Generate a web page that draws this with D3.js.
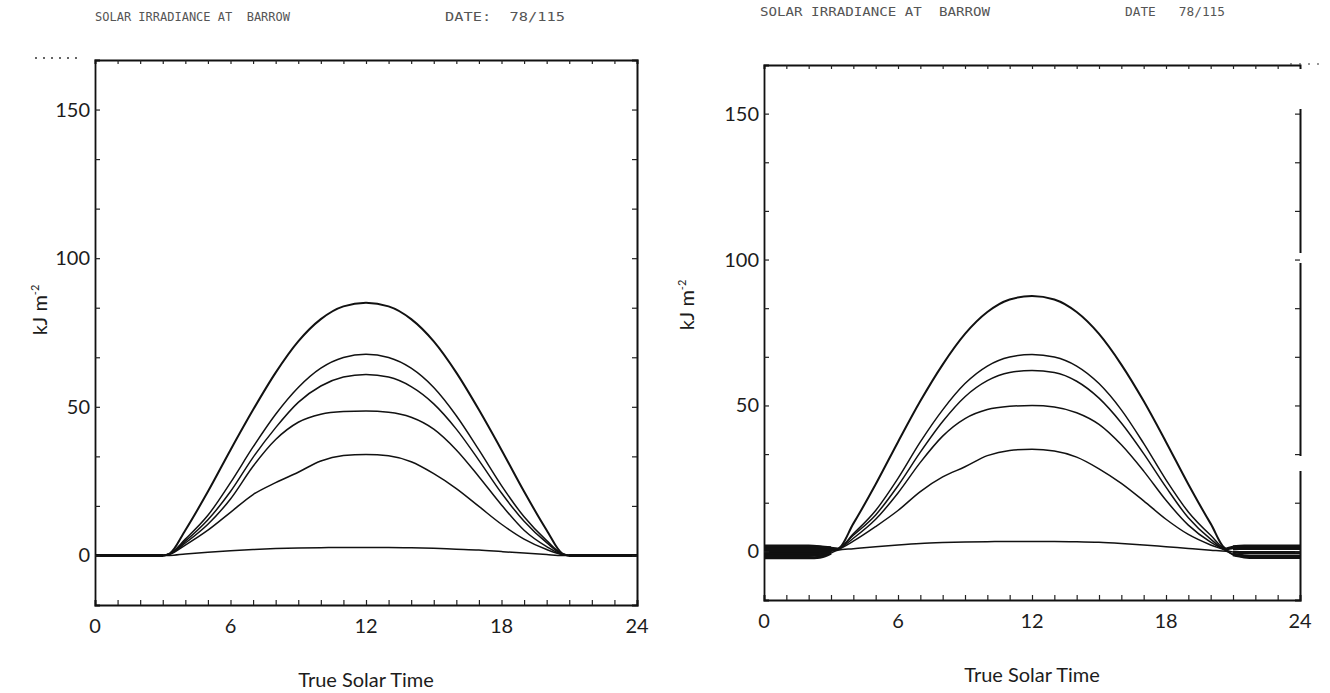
<!DOCTYPE html>
<html>
<head>
<meta charset="utf-8">
<script src="https://cdn.jsdelivr.net/npm/d3@7"></script>
<style>
  html, body { margin: 0; padding: 0; background: #fff; }
  svg { display: block; }
  .hdr { font-family: "DejaVu Sans Mono", monospace; font-size: 12px; fill: #555; white-space: pre; }
  .lbl { font-family: Lato, "Liberation Sans", sans-serif; font-weight: 400; font-size: 20px; fill: #1c1c1c; }
</style>
</head>
<body>
<svg id="chart" width="1330" height="693"></svg>
<script>
// True solar time (hours) at which each curve is sampled
const hours = [0, 1, 2, 2.5, 3, 3.3, 4, 5, 6, 7, 8, 9, 10, 11, 12, 13, 14, 15, 16, 17, 18, 19, 20, 20.7, 21, 21.5, 22, 23, 24];

// Irradiance (kJ m-2), first panel
const leftTop = [0, 0, 0, 0, 0, 0.6, 8.5, 21.5, 35.5, 49, 61.5, 72, 79.5, 83.8, 85, 83.8, 79.5, 72, 61.5, 49, 35.5, 21.5, 8.5, 0.6, 0, 0, 0, 0, 0];
const leftC2  = [0, 0, 0, 0, 0, 0.5, 5.5, 13.5, 24.5, 36.5, 47.5, 56.5, 63, 66.6, 67.7, 66.6, 63, 56.5, 47, 35.5, 23.5, 13, 5, 0.5, 0, 0, 0, 0, 0];
const leftC3  = [0, 0, 0, 0, 0, 0.5, 4.8, 12, 21.5, 33, 43, 51.5, 57, 60, 60.9, 60, 56.8, 51, 42.5, 32, 21, 11.5, 4.3, 0.4, 0, 0, 0, 0, 0];
const leftC4  = [0, 0, 0, 0, 0, 0.4, 4.2, 10.5, 19, 30, 39, 44.8, 47.5, 48.4, 48.6, 48.2, 46.5, 42.5, 35.5, 26.5, 17, 8.5, 3, 0.3, 0, 0, 0, 0, 0];
const leftC5  = [0, 0, 0, 0, 0, 0.4, 3.5, 8.5, 14.5, 20.5, 24.5, 28, 31.8, 33.6, 34, 33.5, 31.5, 27.5, 22.5, 16.5, 10.5, 5.5, 2, 0.3, 0, 0, 0, 0, 0];
const leftLow = [0, 0, 0, 0, 0, 0, 0.5, 1.1, 1.6, 2.0, 2.3, 2.5, 2.6, 2.7, 2.7, 2.7, 2.6, 2.4, 2.1, 1.8, 1.3, 0.8, 0.3, 0, 0, 0, 0, 0, 0];

// Irradiance (kJ m-2), second panel
const rightTop = [1.8, 1.8, 1.8, 1.6, 1.2, 1.0, 9.5, 23, 37.5, 51.5, 64, 74.5, 82, 86.3, 87.5, 86.3, 82, 74.5, 64, 51.5, 37.5, 23, 9.5, 1.0, 1.6, 1.8, 1.8, 1.8, 1.8];
const rightC2  = [1.0, 1.0, 1.0, 1.0, 0.9, 0.9, 6, 14, 25, 37.5, 48.5, 57.5, 63.5, 66.6, 67.5, 66.6, 63.5, 57.5, 48.5, 37, 24.5, 13.5, 5.5, 0.8, 1.3, 1.4, 1.4, 1.4, 1.4];
const rightC3  = [0.2, 0.2, 0.2, 0.3, 0.6, 0.8, 5.5, 12.5, 22.5, 34, 44.5, 53, 58.5, 61.3, 62, 61.3, 58.3, 52.5, 44, 33.5, 22, 11.5, 4.2, 0.6, 1.0, 1.0, 1.0, 1.0, 1.0];
const rightC4  = [-0.6, -0.6, -0.6, -0.4, 0.3, 0.7, 4.5, 11, 20, 30.5, 39.5, 45.5, 48.6, 49.7, 50, 49.5, 47.5, 43.5, 36.5, 27.5, 17.5, 9, 3.2, 0.4, -0.2, -0.4, -0.4, -0.4, -0.4];
const rightC5  = [-1.4, -1.4, -1.4, -1.2, 0, 0.6, 3.5, 8.5, 14, 20.5, 25.5, 29, 32.8, 34.6, 35, 34.4, 32.3, 28.3, 23.3, 17.3, 11, 5.8, 2.2, 0.2, -1.0, -1.5, -1.6, -1.6, -1.6];
const rightLow = [-2.2, -2.2, -2.2, -2.0, -0.6, 0.4, 0.9, 1.6, 2.2, 2.7, 3.0, 3.2, 3.3, 3.4, 3.4, 3.4, 3.3, 3.1, 2.7, 2.2, 1.6, 1.0, 0.4, 0, -1.2, -1.9, -2.1, -2.1, -2.1];

// Axis ticks and labels
const xTickLabels = [0, 6, 12, 18, 24];
const yTickLabels = [0, 50, 100, 150];
const yDomain = [-50 / 3, 500 / 3];
const xDomain = [0, 24];

const headerLeft = "SOLAR IRRADIANCE AT  BARROW";
const headerDate = ["DATE:  78/115", "DATE   78/115"];
const xTitle = "True Solar Time";

const svg = d3.select("#chart");

const panels = [
  { x0: 95, x1: 637, y0: 60, y1: 605, series: [leftLow, leftC5, leftC4, leftC3, leftC2, leftTop],
    nightWidth: 2.6, hdrY: 21, hdr1: [95, 195], hdr2: [445, 120], yTitle: [47, 310], rightDash: null },
  { x0: 764, x1: 1300, y0: 65, y1: 600, series: [rightLow, rightC5, rightC4, rightC3, rightC2, rightTop],
    nightWidth: 3, hdrY: 16, hdr1: [760, 230], hdr2: [1125, 100], yTitle: [694, 305], rightDash: "135 15 193 10 144 60" }
];

panels.forEach((p, pi) => {
  const g = svg.append("g");
  const x = d3.scaleLinear().domain(xDomain).range([p.x0, p.x1]);
  const y = d3.scaleLinear().domain(yDomain).range([p.y1, p.y0]);

  // header line
  g.append("text").attr("class", "hdr").attr("x", p.hdr1[0]).attr("y", p.hdrY)
    .attr("textLength", p.hdr1[1]).attr("lengthAdjust", "spacingAndGlyphs").text(headerLeft);
  g.append("text").attr("class", "hdr").attr("x", p.hdr2[0]).attr("y", p.hdrY)
    .attr("textLength", p.hdr2[1]).attr("lengthAdjust", "spacingAndGlyphs").text(headerDate[pi]);

  // curves
  const line = d3.line()
    .x((d, i) => x(hours[i]))
    .y(d => y(d))
    .curve(d3.curveMonotoneX);
  p.series.forEach((s, si) => {
    g.append("path")
      .attr("d", line(s))
      .attr("fill", "none")
      .attr("stroke", "#111")
      .attr("stroke-width", si === p.series.length - 1 ? 2 : 1.5)
      .attr("stroke-linejoin", "round");
  });

  // heavier pen trace over the night-time stretches
  if (p.nightWidth) {
    const nightLine = d3.line()
      .defined((d, i) => hours[i] <= 3 || hours[i] >= 21)
      .x((d, i) => x(hours[i]))
      .y(d => y(d))
      .curve(d3.curveMonotoneX);
    p.series.forEach(s => {
      g.append("path")
        .attr("d", nightLine(s))
        .attr("fill", "none")
        .attr("stroke", "#111")
        .attr("stroke-width", p.nightWidth);
    });
  }

  // frame with inward ticks on all four sides
  const yMinor = d3.range(-1, 11).map(k => k * 50 / 3).filter(v => v > yDomain[0] + 1 && v < yDomain[1] - 1);
  const xMinor = d3.range(1, 24);
  const styleAxis = (a, w) => {
    a.select(".domain").attr("stroke", "#111").attr("stroke-width", w);
    a.selectAll(".tick line").attr("stroke", "#222").attr("stroke-width", 1.2);
  };

  g.append("g").attr("transform", `translate(0,${p.y1})`)
    .call(d3.axisBottom(x).tickValues(xMinor).tickSize(-5).tickFormat(""))
    .call(a => styleAxis(a, 2));
  g.append("g").attr("transform", `translate(0,${p.y0})`)
    .call(d3.axisTop(x).tickValues(xMinor).tickSize(-4).tickFormat(""))
    .call(a => styleAxis(a, 2));
  g.append("g").attr("transform", `translate(${p.x0},0)`)
    .call(d3.axisLeft(y).tickValues(yMinor).tickSize(-5).tickFormat(""))
    .call(a => styleAxis(a, 1.8));
  const rightAxis = g.append("g").attr("transform", `translate(${p.x1},0)`)
    .call(d3.axisRight(y).tickValues(yMinor).tickSize(-5).tickFormat(""))
    .call(a => styleAxis(a, 2));
  if (p.rightDash) rightAxis.select(".domain").attr("stroke-dasharray", p.rightDash);

  // numeric tick labels
  g.selectAll(".ylab").data(yTickLabels).join("text")
    .attr("class", "lbl").attr("x", p.x0 - 5).attr("y", d => y(d) + 7)
    .attr("text-anchor", "end").text(d => d);
  g.selectAll(".xlab").data(xTickLabels).join("text")
    .attr("class", "lbl").attr("x", d => x(d)).attr("y", p.y1 + 28)
    .attr("text-anchor", "middle").text(d => d);

  // axis titles
  g.append("text").attr("class", "lbl")
    .attr("x", (p.x0 + p.x1) / 2).attr("y", p.y1 + 82)
    .attr("text-anchor", "middle").text(xTitle);
  const yt = g.append("text").attr("class", "lbl")
    .attr("transform", `translate(${p.yTitle[0]},${p.yTitle[1]}) rotate(-90)`)
    .attr("text-anchor", "middle");
  yt.append("tspan").text("kJ m");
  yt.append("tspan").attr("dy", -8).attr("font-size", 11).text("-2");
});

// dotted runs continuing the top frame lines
svg.append("line").attr("x1", 35).attr("x2", 82).attr("y1", 58).attr("y2", 58)
  .attr("stroke", "#333").attr("stroke-width", 1.5).attr("stroke-dasharray", "2 6");
svg.append("line").attr("x1", 1290).attr("x2", 1322).attr("y1", 64).attr("y2", 64)
  .attr("stroke", "#333").attr("stroke-width", 1.2).attr("stroke-dasharray", "2 7");
</script>
</body>
</html>
